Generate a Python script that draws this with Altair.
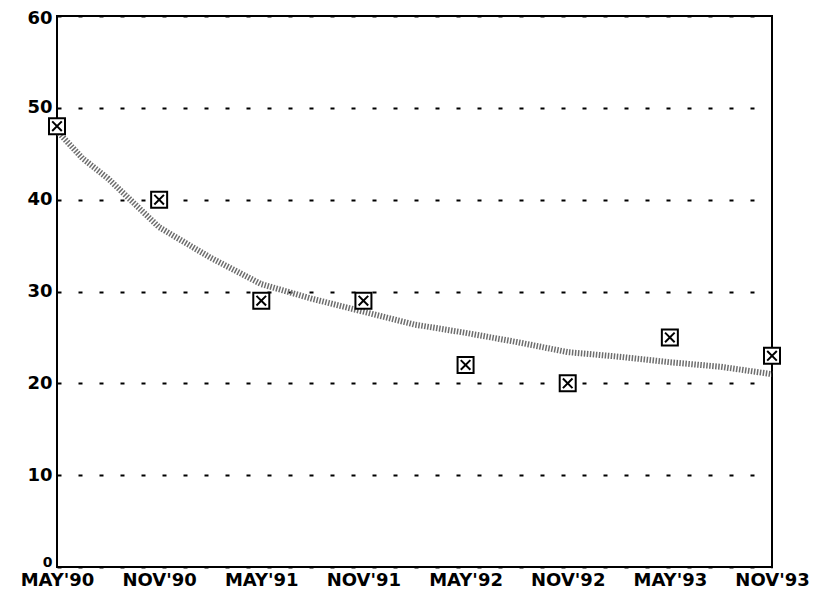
import altair as alt
import pandas as pd

labels = ["MAY'90", "NOV'90", "MAY'91", "NOV'91", "MAY'92", "NOV'92", "MAY'93", "NOV'93"]
obs_x = [0, 1, 2, 3, 4, 5, 6, 7]
obs_y = [48, 40, 29, 29, 22, 20, 25, 23]

trend_x = [0, 0.25, 0.5, 1, 1.5, 2, 2.5, 3, 3.5, 4, 4.5, 5, 5.5, 6, 6.5, 7]
trend_y = [47.5, 44.5, 42.3, 37.0, 33.7, 30.8, 29.2, 27.8, 26.4, 25.5, 24.5, 23.4, 22.9, 22.3, 21.8, 21.0]

obs = pd.DataFrame({"x": obs_x, "y": obs_y})
trend = pd.DataFrame({"x": trend_x, "y": trend_y})

label_expr = "[" + ",".join('"%s"' % l for l in labels) + "][round(datum.value)]"

xscale = alt.Scale(domain=[0, 7], nice=False, zero=False)
yscale = alt.Scale(domain=[0, 60], nice=False)

xaxis = alt.Axis(values=obs_x, labelExpr=label_expr, title=None, grid=False, ticks=False,
                 domain=False, labelFont="DejaVu Sans", labelFontWeight="bold", labelFontSize=18,
                 labelColor="black", labelPadding=4, labelFlush=False)
yaxis = alt.Axis(values=[0, 10, 20, 30, 40, 50, 60], title=None, ticks=False, domain=False,
                 grid=True, gridDash=[4, 17], gridColor="black", gridWidth=2, gridOpacity=1,
                 labelFont="DejaVu Sans", labelFontWeight="bold",
                 labelFontSize={"condition": {"test": "datum.value === 0", "value": 14}, "value": 18},
                 labelOffset={"condition": [{"test": "datum.value === 0", "value": -5},
                                            {"test": "datum.value === 60", "value": 2}], "value": 0},
                 labelColor="black", labelPadding=5, labelFlush=False, labelBaseline="middle")

line = alt.Chart(trend).mark_line(color="#6e6e6e", strokeWidth=6, strokeDash=[1.5, 1.5]).encode(
    x=alt.X("x:Q", scale=xscale, axis=xaxis),
    y=alt.Y("y:Q", scale=yscale, axis=yaxis),
)

marker_path = "M-1,-1H1V1H-1Z M-0.6,-0.6L0.6,0.6 M-0.6,0.6L0.6,-0.6"
pts = alt.Chart(obs).mark_point(shape=marker_path, size=256, filled=False, stroke="black",
                                strokeWidth=2, fill="white", opacity=1).encode(
    x=alt.X("x:Q", scale=xscale),
    y=alt.Y("y:Q", scale=yscale),
)

chart = alt.layer(line, pts).properties(
    width=715, height=551,
    autosize=alt.AutoSizeParams(type="none"),
    padding={"left": 49, "top": 8, "right": 41, "bottom": 23},
    background="white",
).configure_view(stroke="black", strokeWidth=2)

chart.save("out.html", embed_options={"renderer": "svg", "actions": False})
